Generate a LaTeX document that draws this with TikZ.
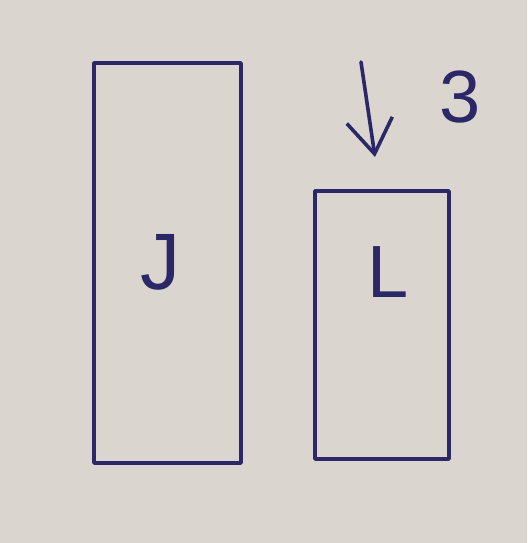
\documentclass[tikz,border=0pt]{standalone}
\usepackage{fontspec}
\newfontfamily\handfont{Liberation Sans}
\usetikzlibrary{arrows.meta}
\definecolor{paper}{RGB}{218,214,207}
\definecolor{ink}{RGB}{44,40,104}
\tikzset{
  box/.style={draw=ink, line width=3.6pt, line join=round, inner sep=0pt},
  handtext/.style={text=ink, font=\handfont, inner sep=0pt},
  pen/.style={draw=ink, line width=3.6pt, line cap=round},
}
\begin{document}
\begin{tikzpicture}[x=1pt,y=-1pt]
\fill[paper] (0,0) rectangle (527,543);
\useasboundingbox (0,0) rectangle (527,543);
\node[box, minimum width=147pt, minimum height=400pt] (tall) at (167.5,263) {};
\node[box, minimum width=134pt, minimum height=268pt] (short) at (382,325) {};
\node[handtext, font=\handfont\fontsize{80}{80}\selectfont] (J) at (160,262) {J};
\node[handtext, font=\handfont\fontsize{74}{74}\selectfont] (L) at (388,272) {L};
\node[handtext, font=\handfont\fontsize{74}{74}\selectfont] (three) at (460,97) {3};
\coordinate (start) at (361,62);
\coordinate (tip) at (375,157);
\draw[pen, -{Straight Barb[length=34pt, width=46pt]}] (start) -- (tip);
\end{tikzpicture}
\end{document}
